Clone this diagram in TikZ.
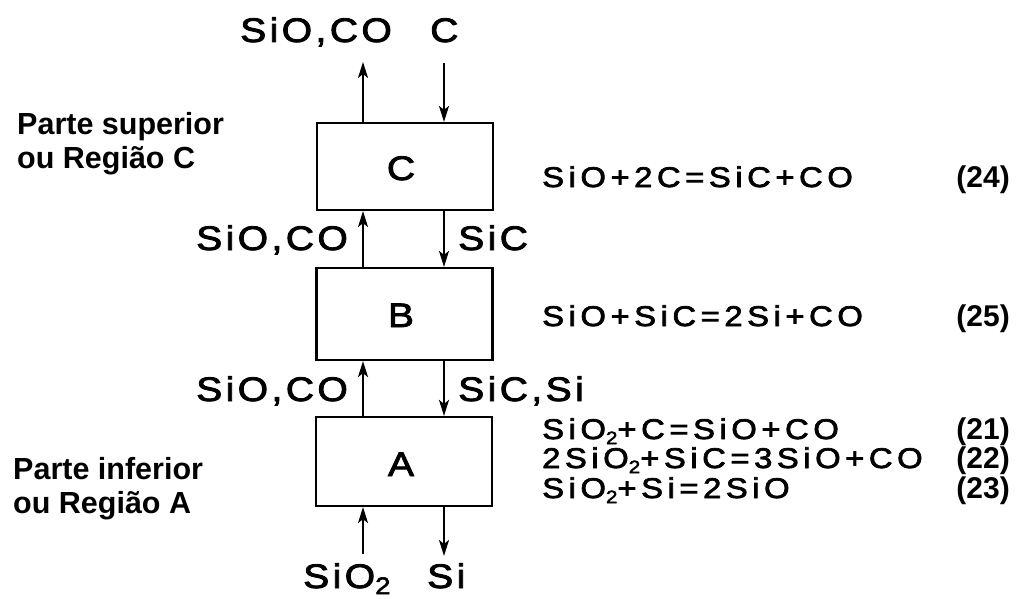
\documentclass[tikz,border=0pt]{standalone}
\usepackage{fontspec}
\setmainfont{Liberation Sans}
\newfontfamily\spc[LetterSpace=10,FakeStretch=1.15,FakeBold=2.5]{Liberation Sans}
\newfontfamily\spe[LetterSpace=16,FakeStretch=1.15,FakeBold=2.5]{Liberation Sans}
\usetikzlibrary{arrows.meta}
\newcommand\subtwo[1]{\raisebox{-0.18em}[0pt][0pt]{\fontsize{#1}{#1}\selectfont 2}}
\tikzset{
  box/.style={draw, line width=2.2pt, minimum width=176pt, inner sep=0pt},
  arr/.style={line width=2.2pt, -{Stealth[length=16pt,width=10pt,inset=4pt]}},
  lab/.style={inner sep=0pt, anchor=base west, font=\spc\fontsize{34}{36}\selectfont},
  eq/.style={inner sep=0pt, anchor=base west, font=\spe\fontsize{28.5}{30}\selectfont},
  num/.style={inner sep=0pt, anchor=base east, font=\bfseries\fontsize{30}{32}\selectfont},
  side/.style={inner sep=0pt, anchor=base west, font=\bfseries\fontsize{30.5}{32}\selectfont},
  boxlab/.style={inner sep=0pt, anchor=base, font=\spc\fontsize{34}{36}\selectfont}
}
\begin{document}
\begin{tikzpicture}[x=1pt,y=-1pt]
\useasboundingbox (0,0) rectangle (1019,599);
% boxes
\node[box, minimum height=87pt] (boxC) at (405,166.5) {};
\node[box, minimum height=92pt] (boxB) at (404.5,314) {};
\node[box, minimum height=89pt] (boxA) at (404,461.5) {};
\node[boxlab] (lC) at (401,180) {C};
\node[boxlab] (lB) at (401,327) {B};
\node[boxlab] (lA) at (401,476) {A};
% arrow x positions
\coordinate (xu) at (363,0);
\coordinate (xd) at (444,0);
\coordinate (topU) at (363,62);
\coordinate (topD) at (444,63);
\coordinate (botU) at (363,554);
\coordinate (botD) at (444,556);
% arrows
\draw[arr] (boxC.north -| xu) -- (topU);
\draw[arr] (topD) -- (boxC.north -| xd);
\draw[arr] (boxB.north -| xu) -- (boxC.south -| xu);
\draw[arr] (boxC.south -| xd) -- (boxB.north -| xd);
\draw[arr] (boxA.north -| xu) -- (boxB.south -| xu);
\draw[arr] (boxB.south -| xd) -- (boxA.north -| xd);
\draw[arr] (botU) -- (boxA.south -| xu);
\draw[arr] (boxA.south -| xd) -- (botD);
% flow labels
\node[lab] (t1) at (240,42) {SiO,CO};
\node[lab] (t2) at (430,42) {C};
\node[lab] (m1) at (196,250) {SiO,CO};
\node[lab] (m2) at (458,250) {SiC};
\node[lab] (n1) at (196,401) {SiO,CO};
\node[lab] (n2) at (458,401) {SiC,Si};
\node[lab] (b1) at (303,588) {SiO\subtwo{24}};
\node[lab] (b2) at (427,588) {Si};
% equations
\node[eq] (e24) at (542,187) {SiO+2C=SiC+CO};
\node[eq] (e25) at (542,326) {SiO+SiC=2Si+CO};
\node[eq] (e21) at (542,439) {SiO\subtwo{18}+C=SiO+CO};
\node[eq] (e22) at (542,468) {2SiO\subtwo{18}+SiC=3SiO+CO};
\node[eq] (e23) at (542,498) {SiO\subtwo{18}+Si=2SiO};
\node[num] (n24) at (1010,187) {(24)};
\node[num] (n25) at (1010,326) {(25)};
\node[num] (n21) at (1010,439) {(21)};
\node[num] (n22) at (1010,468) {(22)};
\node[num] (n23) at (1010,498) {(23)};
% side labels
\node[side] (s1) at (17,135) {Parte superior};
\node[side] (s2) at (17,168) {ou Região C};
\node[side] (s3) at (13,479) {Parte inferior};
\node[side] (s4) at (13,513) {ou Região A};
\end{tikzpicture}
\end{document}
